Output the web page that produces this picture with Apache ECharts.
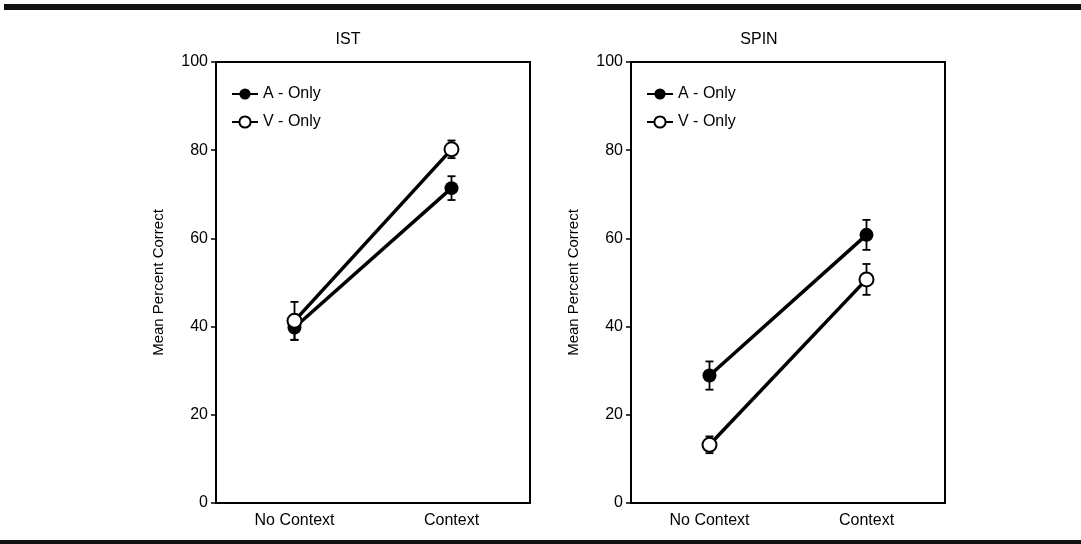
<!DOCTYPE html>
<html>
<head>
<meta charset="utf-8">
<script src="https://cdn.jsdelivr.net/npm/echarts@6/dist/echarts.min.js"></script>
<style>
  html, body { margin: 0; padding: 0; background: #fff; }
  #main { width: 1081px; height: 544px; }
</style>
</head>
<body>
<div id="main"></div>
<script>
// data
var categories = ['No Context', 'Context'];
var panelTitles = ['IST', 'SPIN'];
var seriesNames = ['A - Only', 'V - Only'];
var yTicks = [0, 20, 40, 60, 80, 100];

var istA = [39.8, 71.4];
var istAErr = [2.8, 2.7];
var istV = [41.3, 80.2];
var istVErr = [4.3, 2.0];

var spinA = [28.9, 60.8];
var spinAErr = [3.2, 3.4];
var spinV = [13.2, 50.7];
var spinVErr = [1.9, 3.5];

var FONT = 'Liberation Sans';
var chart = echarts.init(document.getElementById('main'));

function errItem(params, api) {
  var x = api.value(0);
  var lo = api.coord([x, api.value(1)]);
  var hi = api.coord([x, api.value(2)]);
  var cap = 4;
  var st = { stroke: '#000', lineWidth: 1.8 };
  return {
    type: 'group',
    children: [
      { type: 'line', shape: { x1: lo[0], y1: lo[1], x2: hi[0], y2: hi[1] }, style: st },
      { type: 'line', shape: { x1: lo[0] - cap, y1: lo[1], x2: lo[0] + cap, y2: lo[1] }, style: st },
      { type: 'line', shape: { x1: hi[0] - cap, y1: hi[1], x2: hi[0] + cap, y2: hi[1] }, style: st }
    ]
  };
}

function errData(vals, errs) {
  return vals.map(function (v, i) { return [i, v - errs[i], v + errs[i]]; });
}

function lineSeries(name, vals, idx, filled) {
  return {
    name: name,
    type: 'line',
    xAxisIndex: idx,
    yAxisIndex: idx,
    data: vals,
    symbol: 'circle',
    symbolSize: 14,
    z: 5,
    lineStyle: { color: '#000', width: 3.5 },
    itemStyle: { color: filled ? '#000' : '#fff', borderColor: '#000', borderWidth: filled ? 0 : 2 }
  };
}

function errSeries(vals, errs, idx) {
  return {
    type: 'custom',
    xAxisIndex: idx,
    yAxisIndex: idx,
    renderItem: errItem,
    data: errData(vals, errs),
    z: 3,
    silent: true
  };
}

function xAxis(idx) {
  return {
    type: 'category',
    gridIndex: idx,
    data: categories,
    boundaryGap: true,
    axisLine: { lineStyle: { color: '#000', width: 2 } },
    axisTick: { show: false },
    axisLabel: { color: '#000', fontFamily: FONT, fontSize: 16, margin: 10 }
  };
}

function yAxis(idx) {
  return {
    type: 'value',
    gridIndex: idx,
    min: yTicks[0],
    max: yTicks[yTicks.length - 1],
    interval: 20,
    name: 'Mean Percent Correct',
    nameLocation: 'middle',
    nameGap: 50,
    nameTextStyle: { color: '#000', fontFamily: FONT, fontSize: 15 },
    axisLine: { show: true, lineStyle: { color: '#000', width: 2 } },
    axisTick: { show: true, length: 5, lineStyle: { color: '#000', width: 1.5 } },
    axisLabel: { color: '#000', fontFamily: FONT, fontSize: 16, margin: 8 },
    splitLine: { show: false }
  };
}

function legend(left) {
  return {
    left: left,
    top: 81,
    orient: 'vertical',
    itemWidth: 26,
    itemHeight: 14,
    itemGap: 12,
    data: seriesNames,
    textStyle: { color: '#000', fontFamily: FONT, fontSize: 16 },
    selectedMode: false
  };
}

var option = {
  backgroundColor: '#fff',
  animation: false,
  title: [
    { text: panelTitles[0], left: 343, top: 27, textAlign: 'center',
      textStyle: { color: '#000', fontFamily: FONT, fontSize: 16, fontWeight: 'normal' } },
    { text: panelTitles[1], left: 754, top: 27, textAlign: 'center',
      textStyle: { color: '#000', fontFamily: FONT, fontSize: 16, fontWeight: 'normal' } }
  ],
  legend: [legend(226), legend(641)],
  grid: [
    { left: 216, right: 551, top: 62, bottom: 41, show: true, borderColor: '#000', borderWidth: 2, backgroundColor: 'transparent' },
    { left: 631, right: 136, top: 62, bottom: 41, show: true, borderColor: '#000', borderWidth: 2, backgroundColor: 'transparent' }
  ],
  xAxis: [xAxis(0), xAxis(1)],
  yAxis: [yAxis(0), yAxis(1)],
  series: [
    errSeries(istA, istAErr, 0),
    errSeries(istV, istVErr, 0),
    lineSeries(seriesNames[0], istA, 0, true),
    lineSeries(seriesNames[1], istV, 0, false),
    errSeries(spinA, spinAErr, 1),
    errSeries(spinV, spinVErr, 1),
    lineSeries(seriesNames[0], spinA, 1, true),
    lineSeries(seriesNames[1], spinV, 1, false)
  ],
  graphic: [
    { type: 'rect', shape: { x: 4, y: 4, width: 1077, height: 6 }, style: { fill: '#111' } },
    { type: 'rect', shape: { x: 0, y: 540, width: 1081, height: 4 }, style: { fill: '#111' } }
  ]
};

chart.setOption(option);
</script>
</body>
</html>
